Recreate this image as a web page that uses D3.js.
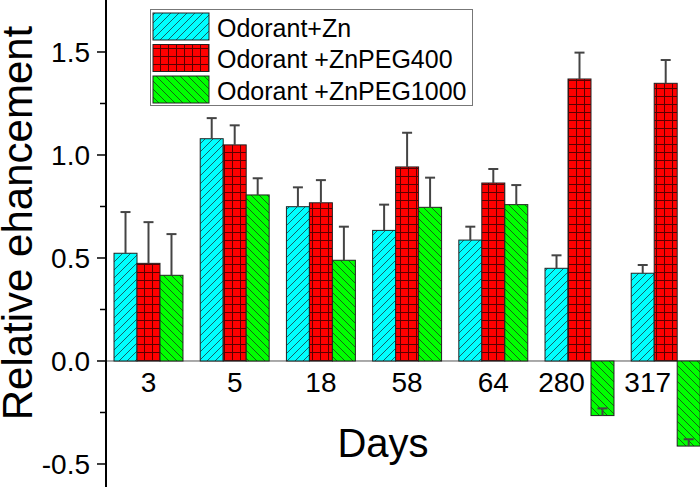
<!DOCTYPE html>
<html>
<head>
<meta charset="utf-8">
<script src="https://cdn.jsdelivr.net/npm/d3@7"></script>
<style>
  body { margin: 0; background: #fff; }
  text { font-family: "Liberation Sans", Arial, sans-serif; }
</style>
</head>
<body>
<svg id="chart" width="700" height="487"></svg>
<script>
// data
let days = ['3', '5', '18', '58', '64', '280', '317'];
let seriesNames = ['Odorant+Zn', 'Odorant +ZnPEG400', 'Odorant +ZnPEG1000'];
let znVals = [0.523, 1.079, 0.749, 0.634, 0.587, 0.450, 0.426];
let znErr = [0.20, 0.10, 0.094, 0.125, 0.065, 0.063, 0.040];
let peg400Vals = [0.474, 1.049, 0.768, 0.942, 0.864, 1.369, 1.348];
let peg400Err = [0.20, 0.095, 0.11, 0.166, 0.068, 0.128, 0.113];
let peg1000Vals = [0.416, 0.806, 0.489, 0.746, 0.759, -0.265, -0.413];
let peg1000Err = [0.20, 0.081, 0.163, 0.144, 0.095, 0.035, 0.033];
let yTicks = [-0.5, 0.0, 0.5, 1.0, 1.5];

let fills = ['url(#hatchCyan)', 'url(#gridRed)', 'url(#hatchGreen)'];
let series = [
    {name: seriesNames[0], vals: znVals, err: znErr},
    {name: seriesNames[1], vals: peg400Vals, err: peg400Err},
    {name: seriesNames[2], vals: peg1000Vals, err: peg1000Err}
];

let svg = d3.select('#chart');
let axisX = 106;

// patterns
let defs = svg.append('defs');
let p1 = defs.append('pattern').attr('id', 'hatchCyan')
    .attr('patternUnits', 'userSpaceOnUse').attr('width', 8).attr('height', 8);
p1.append('rect').attr('width', 8).attr('height', 8).attr('fill', '#00ffff');
p1.append('path').attr('d', 'M0,8 L8,0 M-2,2 L2,-2 M6,10 L10,6')
    .attr('stroke', '#1a3a40').attr('stroke-width', 0.8);

let p2 = defs.append('pattern').attr('id', 'gridRed')
    .attr('patternUnits', 'userSpaceOnUse').attr('width', 8).attr('height', 8);
p2.append('rect').attr('width', 8).attr('height', 8).attr('fill', '#ff0000');
p2.append('path').attr('d', 'M0,0.5 H8 M0.5,0 V8')
    .attr('stroke', '#5a0000').attr('stroke-width', 1);

let p3 = defs.append('pattern').attr('id', 'hatchGreen')
    .attr('patternUnits', 'userSpaceOnUse').attr('width', 8).attr('height', 8);
p3.append('rect').attr('width', 8).attr('height', 8).attr('fill', '#00ff00');
p3.append('path').attr('d', 'M0,0 L8,8 M-2,6 L2,10 M6,-2 L10,2')
    .attr('stroke', '#1a401a').attr('stroke-width', 0.8);

// scales
const xScale = d3.scaleBand()
    .domain(days)
    .range([105.4, 708.8])
    .paddingInner(0.2)
    .paddingOuter(0.1);

const xSub = d3.scaleBand()
    .domain(d3.range(series.length))
    .range([0, xScale.bandwidth()]);

const yScale = d3.scaleLinear()
    .domain([-0.6117, 1.7524])
    .range([487, 0]);

// x axis baseline
svg.append('line')
    .attr('x1', axisX).attr('x2', 700)
    .attr('y1', yScale(0)).attr('y2', yScale(0))
    .attr('stroke', '#555').attr('stroke-width', 1);

// bars
series.forEach(function(s, si) {
    let g = svg.append('g');
    g.selectAll('rect')
        .data(s.vals)
        .enter()
        .append('rect')
        .attr('x', function(d, i) { return xScale(days[i]) + xSub(si); })
        .attr('y', function(d) { return yScale(Math.max(0, d)); })
        .attr('width', xSub.bandwidth())
        .attr('height', function(d) { return Math.abs(yScale(d) - yScale(0)); })
        .attr('fill', fills[si])
        .attr('stroke', '#222')
        .attr('stroke-width', 1);
});

// error bars (plus direction only)
series.forEach(function(s, si) {
    let g = svg.append('g').attr('stroke', '#444').attr('stroke-width', 2);
    s.vals.forEach(function(v, i) {
        let cx = xScale(days[i]) + xSub(si) + xSub.bandwidth() / 2;
        let top = v + s.err[i];
        g.append('line')
            .attr('x1', cx).attr('x2', cx)
            .attr('y1', yScale(v)).attr('y2', yScale(top));
        g.append('line')
            .attr('x1', cx - 5).attr('x2', cx + 5)
            .attr('y1', yScale(top)).attr('y2', yScale(top));
    });
});

// y axis
svg.append('line')
    .attr('x1', axisX).attr('x2', axisX)
    .attr('y1', 0).attr('y2', 487)
    .attr('stroke', '#000').attr('stroke-width', 2);

let minor = d3.range(-0.75, 1.76, 0.5).filter(function(d) {
    return yScale(d) > 2 && yScale(d) < 485;
});
svg.append('g').selectAll('line')
    .data(minor)
    .enter()
    .append('line')
    .attr('x1', axisX - 6).attr('x2', axisX)
    .attr('y1', function(d) { return yScale(d); })
    .attr('y2', function(d) { return yScale(d); })
    .attr('stroke', '#000').attr('stroke-width', 1.5);

svg.append('g').selectAll('line')
    .data(yTicks)
    .enter()
    .append('line')
    .attr('x1', axisX - 9).attr('x2', axisX)
    .attr('y1', function(d) { return yScale(d); })
    .attr('y2', function(d) { return yScale(d); })
    .attr('stroke', '#000').attr('stroke-width', 1.5);

// plain hyphen for the minus, like the original
let fmt = function(d) { return d3.format('.1f')(d).replace('\u2212', '-'); };
svg.append('g').selectAll('text')
    .data(yTicks)
    .enter()
    .append('text')
    .attr('x', axisX - 16)
    .attr('y', function(d) { return yScale(d); })
    .attr('dy', '0.36em')
    .attr('text-anchor', 'end')
    .attr('font-size', 28)
    .attr('fill', '#000')
    .text(fmt);

// x tick labels, pushed left where the last bar dips below zero
svg.append('g').selectAll('text')
    .data(days)
    .enter()
    .append('text')
    .attr('x', function(d, i) {
        let c = xScale(d) + xScale.bandwidth() / 2;
        return peg1000Vals[i] < 0 ? c - 18 : c;
    })
    .attr('y', 392)
    .attr('text-anchor', 'middle')
    .attr('font-size', 28)
    .attr('fill', '#000')
    .text(function(d) { return d; });

// axis titles
svg.append('text')
    .attr('x', 383)
    .attr('y', 457)
    .attr('text-anchor', 'middle')
    .attr('font-size', 40)
    .attr('fill', '#000')
    .text('Days');

svg.append('text')
    .attr('transform', 'translate(32, 223) rotate(-90)')
    .attr('text-anchor', 'middle')
    .attr('font-size', 42)
    .attr('fill', '#000')
    .text('Relative ehancement');

// legend
let legend = svg.append('g');
legend.append('rect')
    .attr('x', 150.5).attr('y', 9.5)
    .attr('width', 322).attr('height', 96)
    .attr('fill', '#fff')
    .attr('stroke', '#777').attr('stroke-width', 1);

series.forEach(function(s, si) {
    let y0 = 13 + si * 31.5;
    legend.append('rect')
        .attr('x', 153).attr('y', y0)
        .attr('width', 56).attr('height', 27)
        .attr('fill', fills[si])
        .attr('stroke', '#222').attr('stroke-width', 1);
    legend.append('text')
        .attr('x', 217).attr('y', y0 + 23.5)
        .attr('font-size', 25)
        .attr('fill', '#000')
        .text(s.name);
});
</script>
</body>
</html>
